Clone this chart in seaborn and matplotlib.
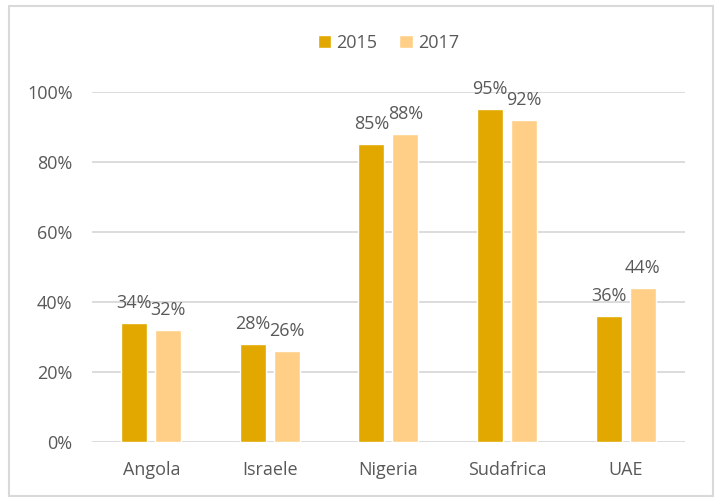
import matplotlib.pyplot as plt
import matplotlib.patches as patches
import seaborn as sns
import pandas as pd

countries = ['Angola', 'Israele', 'Nigeria', 'Sudafrica', 'UAE']
years = ['2015', '2017']
share_2015 = [0.34, 0.28, 0.85, 0.95, 0.36]
share_2017 = [0.32, 0.26, 0.88, 0.92, 0.44]

colors = ['#E2A800', '#FFCF87']
text_color = '#595959'
grid_color = '#D9D9D9'
fs = 13

df = pd.DataFrame({
    'country': countries * 2,
    'year': [years[0]] * len(countries) + [years[1]] * len(countries),
    'share': share_2015 + share_2017,
})

sns.set_style('white')
plt.rcParams['font.family'] = ['Open Sans', 'DejaVu Sans']

fig = plt.figure(figsize=(7.21, 4.97), dpi=100)
ax = fig.add_axes([0.1276, 0.111, 0.8224, 0.704])

sns.barplot(data=df, x='country', y='share', hue='year', palette=colors,
            width=0.573, gap=0.235, ax=ax, saturation=1)

ax.set_ylim(0, 1)
ax.set_yticks([0, 0.2, 0.4, 0.6, 0.8, 1.0])
ax.set_yticklabels(['0%', '20%', '40%', '60%', '80%', '100%'])
ax.yaxis.grid(True, color=grid_color, linewidth=1.3)
ax.set_axisbelow(True)
for s in ax.spines.values():
    s.set_visible(False)
ax.tick_params(axis='both', length=0, labelsize=fs, labelcolor=text_color)
ax.tick_params(axis='y', pad=14)
ax.tick_params(axis='x', pad=14)
ax.set_xlabel('')
ax.set_ylabel('')

for cont in ax.containers:
    ax.bar_label(cont, labels=[f'{v * 100:.0f}%' for v in cont.datavalues],
                 padding=8, fontsize=fs, color=text_color, clip_on=False)

leg = ax.legend(loc='center', bbox_to_anchor=(0.5, 1.14), ncol=2,
                frameon=False, fontsize=fs, handlelength=0.75, handleheight=0.75,
                columnspacing=1.2, handletextpad=0.3)
for t in leg.get_texts():
    t.set_color(text_color)

# figure border
fig.patches.append(patches.Rectangle((9 / 721, 1 / 497), 704 / 721, 490 / 497,
                                     transform=fig.transFigure, fill=False,
                                     edgecolor=grid_color, linewidth=1.5))

plt.savefig('out.png', dpi=100)
